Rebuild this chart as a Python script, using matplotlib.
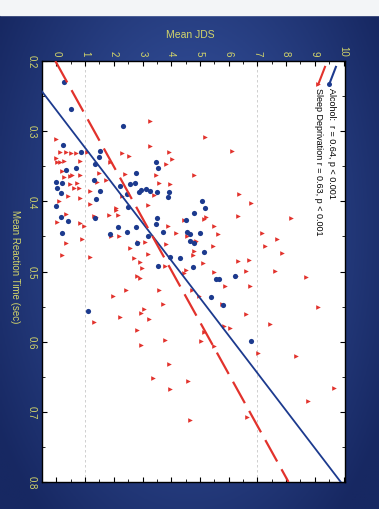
import numpy as np
import matplotlib
matplotlib.use("Agg")
import matplotlib.pyplot as plt
from matplotlib.ticker import MultipleLocator

plt.rcParams['font.family'] = ['Liberation Sans', 'DejaVu Sans']

# Alcohol group: mean JDS vs mean reaction time (sec)
alc_jds = [0.25, 0.51, 2.32, 0.22, 0.86, 1.51, 1.47, 1.33, 0.70, 0.35, 3.46, 3.53, 2.78,
           1.30, 0.00, 0.18, 0.02, 0.16, 1.51, 2.23, 2.55, 2.73, 2.88, 2.95, 3.13, 3.25,
           3.49, 3.92, 3.87, 2.46, 1.39, 0.00, 2.48, 0.17, 0.39, 0.21, 1.36, 2.15, 1.86,
           2.46, 2.78, 2.81, 3.20, 3.50, 3.46, 3.73, 4.55, 4.64, 4.80, 4.50, 4.66, 4.29,
           3.97, 3.55, 4.76, 1.09, 5.08, 5.19, 4.99, 4.78, 5.15, 5.57, 5.68, 6.22, 5.38,
           5.80, 6.78]
alc_rt = [0.230, 0.268, 0.292, 0.320, 0.329, 0.328, 0.337, 0.347, 0.353, 0.356, 0.344,
          0.352, 0.360, 0.370, 0.373, 0.374, 0.381, 0.388, 0.385, 0.378, 0.375, 0.374,
          0.386, 0.384, 0.382, 0.385, 0.387, 0.387, 0.394, 0.390, 0.396, 0.407, 0.408,
          0.423, 0.428, 0.445, 0.424, 0.437, 0.447, 0.443, 0.436, 0.459, 0.450, 0.424,
          0.433, 0.444, 0.444, 0.446, 0.417, 0.426, 0.457, 0.481, 0.479, 0.492, 0.494,
          0.556, 0.399, 0.409, 0.445, 0.460, 0.472, 0.510, 0.511, 0.506, 0.536, 0.548,
          0.599]

# Sleep deprivation group
sd_jds = [3.27, 0.00, 3.27, 0.14, 0.35, 0.51, 0.67, 1.07, 2.30, 2.52, 3.92, 4.01, 3.83,
          4.78, 0.00, 0.02, 0.25, 0.14, 0.81, 1.88, 0.21, 0.46, 0.56, 0.28, 0.81, 1.49,
          2.40, 3.46, 1.42, 1.72, 0.46, 0.72, 3.57, 3.94, 0.60, 0.79, 1.18, 2.30, 0.42,
          0.84, 3.39, 0.09, 1.18, 2.09, 3.18, 5.19, 6.12, 6.37, 6.79, 0.35, 0.02, 0.84,
          0.97, 1.32, 1.39, 1.83, 2.06, 2.15, 1.90, 2.18, 0.90, 0.35, 0.21, 1.18, 3.87,
          4.18, 4.46, 3.09, 2.83, 3.83, 4.83, 2.55, 3.18, 4.78, 2.71, 2.92, 4.76, 2.99,
          3.78, 4.50, 4.46, 2.81, 2.92, 2.41, 3.57, 1.97, 3.71, 3.04, 2.95, 2.23, 3.23,
          1.30, 2.81, 3.80, 2.95, 4.55, 6.33, 8.17, 5.22, 5.15, 5.48, 5.64, 7.17, 7.68,
          4.87, 5.45, 7.28, 7.87, 5.11, 6.33, 6.71, 6.61, 7.61, 5.48, 8.70, 6.24, 5.87,
          6.75, 4.73, 4.97, 5.75, 9.12, 6.61, 7.45, 5.85, 6.06, 5.15, 5.04, 5.50, 7.01,
          8.35, 3.92, 3.37, 4.57, 3.97, 9.65, 8.75, 4.66, 6.64]
sd_rt = [0.286, 0.311, 0.321, 0.329, 0.329, 0.331, 0.331, 0.330, 0.331, 0.336, 0.330,
         0.339, 0.347, 0.362, 0.338, 0.344, 0.342, 0.344, 0.343, 0.344, 0.357, 0.364,
         0.362, 0.366, 0.362, 0.359, 0.361, 0.363, 0.372, 0.369, 0.376, 0.374, 0.374,
         0.376, 0.381, 0.381, 0.385, 0.393, 0.392, 0.395, 0.391, 0.400, 0.404, 0.410,
         0.405, 0.308, 0.328, 0.390, 0.402, 0.418, 0.430, 0.431, 0.435, 0.421, 0.423,
         0.420, 0.412, 0.419, 0.450, 0.449, 0.453, 0.460, 0.477, 0.480, 0.435, 0.445,
         0.426, 0.458, 0.458, 0.461, 0.458, 0.467, 0.475, 0.471, 0.481, 0.486, 0.477,
         0.495, 0.492, 0.498, 0.502, 0.506, 0.509, 0.526, 0.527, 0.535, 0.547, 0.554,
         0.559, 0.565, 0.567, 0.572, 0.584, 0.597, 0.605, 0.450, 0.421, 0.424, 0.422,
         0.425, 0.435, 0.447, 0.445, 0.453, 0.456, 0.464, 0.464, 0.473, 0.488, 0.485,
         0.483, 0.499, 0.499, 0.501, 0.508, 0.506, 0.521, 0.520, 0.526, 0.535, 0.546,
         0.551, 0.560, 0.575, 0.578, 0.581, 0.586, 0.599, 0.606, 0.616, 0.620, 0.632,
         0.652, 0.656, 0.668, 0.666, 0.684, 0.711, 0.708]

# regression lines: JDS = intercept + slope * RT
alc_fit = [-5.05, 18.69]
sd_fit = [-2.74, 13.53]

labels = ['Alcohol:  r = 0.64, p < 0.001', 'Sleep Deprivation r = 0.63, p < 0.001']

blue = '#1c3a8e'
red = '#e2322c'
yellow = '#d4d66a'

W, H = 379, 510
fig = plt.figure(figsize=(W / 100, H / 100), dpi=100)

# blue photographic background
bg = fig.add_axes([0, 0, 1, 1], zorder=-10)
yy, xx = np.mgrid[0:1:200j, 0:1:150j]
r = np.sqrt(((xx - 0.5) / 0.6) ** 2 + ((yy - 0.55) / 0.75) ** 2)
r = np.clip(r, 0, 1)
c0 = np.array([0x3d, 0x5d, 0xad]) / 255
c1 = np.array([0x17, 0x28, 0x62]) / 255
img = c0[None, None, :] * (1 - r[..., None]) + c1[None, None, :] * r[..., None]
bg.imshow(img, extent=[0, 1, 0, 1], aspect='auto', origin='lower')
bg.add_patch(plt.Rectangle((0, 1 - 16 / H), 1, 16 / H, color='#f3f5f7', zorder=2))
bg.set_xlim(0, 1)
bg.set_ylim(0, 1)
bg.axis('off')

ax = fig.add_axes([42 / W, (H - 483) / H, (345 - 42) / W, (483 - 62) / H])
ax.set_facecolor('white')

ax.scatter(sd_jds, sd_rt, marker='>', s=11, color=red, linewidths=0, zorder=3)
ax.scatter(alc_jds, alc_rt, marker='o', s=14, color=blue, linewidths=0, zorder=4)

rt_line = np.array([0.2, 0.8])
ax.plot(alc_fit[0] + alc_fit[1] * rt_line, rt_line, color=blue, lw=1.3, zorder=5)
ax.plot(sd_fit[0] + sd_fit[1] * rt_line, rt_line, color=red, lw=1.6,
        linestyle=(0, (11, 4)), zorder=5)

for g in [1, 7]:
    ax.axvline(g, color='#c8c8c8', lw=0.6, linestyle=(0, (3, 3)), zorder=1)

ax.set_xlim(-0.5, 10.05)
ax.set_ylim(0.8, 0.2)
ax.xaxis.set_major_locator(MultipleLocator(1))
ax.xaxis.set_minor_locator(MultipleLocator(0.5))
ax.yaxis.set_major_locator(MultipleLocator(0.1))
ax.yaxis.set_minor_locator(MultipleLocator(0.05))
ax.xaxis.tick_top()
ax.tick_params(which='both', direction='in', top=True, bottom=True, left=True, right=True,
               colors='black', labelcolor=yellow, labelsize=7)
ax.tick_params(which='major', length=3.5)
ax.tick_params(which='minor', length=2)
ax.tick_params(axis='x', pad=4)
ax.tick_params(axis='y', pad=4)
for t in ax.get_xticklabels():
    t.set_rotation(-90)
for t in ax.get_yticklabels():
    t.set_rotation(-90)
    t.set_va('center')
ax.set_yticklabels(['%.1f' % v for v in ax.get_yticks()])
for t in ax.get_yticklabels():
    t.set_rotation(-90)
    t.set_va('center')
for s in ax.spines.values():
    s.set_color('black')
    s.set_linewidth(1.0)

fig.text(190 / W, 1 - 35 / H, 'Mean JDS', color=yellow, fontsize=7.5,
         ha='center', va='center')
fig.text(15 / W, 1 - 267 / H, 'Mean Reaction Time (sec)', color=yellow, fontsize=7,
         rotation=-90, ha='center', va='center')

# legend, drawn turned with the rest of the chart
handles = [((0.970, 0.986), (0.948, 0.945), blue, 'o', 3.6),
           ((0.934, 0.986), (0.912, 0.945), red, '>', 3.4)]
text_x = [0.956, 0.911]
for (p0, p1, col, mk, ms), tx, lab in zip(handles, text_x, labels):
    ax.plot([p0[0], p1[0]], [p0[1], p1[1]], color=col, lw=1.5,
            transform=ax.transAxes, clip_on=False, zorder=6)
    ax.plot([p1[0]], [p1[1]], marker=mk, ms=ms, color=col, mew=0,
            transform=ax.transAxes, clip_on=False, zorder=6)
    ax.text(tx, 0.938, lab, transform=ax.transAxes, rotation=-90,
            rotation_mode='anchor', ha='left', va='center', fontsize=6.5,
            color='black', zorder=7)

fig.savefig('out.png', dpi=100)
